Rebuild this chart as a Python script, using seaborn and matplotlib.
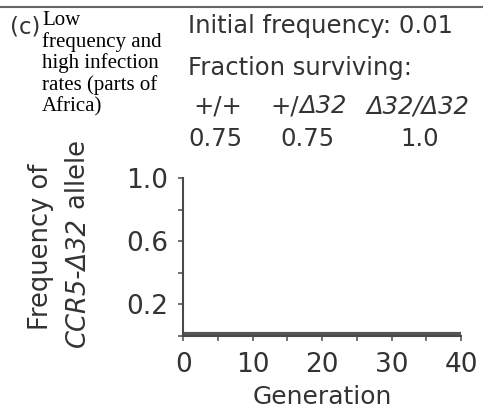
import numpy as np
import seaborn as sns
import matplotlib.pyplot as plt
from matplotlib.lines import Line2D
from matplotlib.transforms import IdentityTransform

# Data
generations = [0, 5, 10, 15, 20, 25, 30, 35, 40]
freq = [0.010, 0.010, 0.010, 0.010, 0.010, 0.010, 0.010, 0.010, 0.010]
genotypes = [[('+/+', 'normal')],
             [('+/', 'normal'), ('Δ32', 'italic')],
             [('Δ32/Δ32', 'italic')]]
surviving = ['0.75', '0.75', '1.0']
x_labels = ['0', '', '10', '', '20', '', '30', '', '40']
y_labels = ['', '0.2', '', '0.6', '', '1.0']
note_lines = ['Low', 'frequency and', 'high infection', 'rates (parts of', 'Africa)']

sns.set_theme(style='ticks')
plt.rcParams['font.family'] = ['DejaVu Sans']

W, H = 483, 412
grey = '#4a4a4a'
txt = '#333333'

fig = plt.figure(figsize=(W / 100, H / 100), dpi=100)
ax = fig.add_axes([183.3 / W, 1 - 336 / H, 277.7 / W, 157.7 / H])

sns.lineplot(x=generations, y=freq, ax=ax, color='#555555', linewidth=3)

ax.set_xlim(0, 40)
ax.set_ylim(0, 1.0)
ax.set_xticks(np.linspace(0, 40, len(x_labels)))
ax.set_xticklabels(x_labels)
ax.set_yticks(np.linspace(0, 1.0, len(y_labels)))
ax.set_yticklabels(y_labels)
ax.tick_params(axis='both', labelsize=19, colors=grey, labelcolor=txt,
               length=3.6, width=1.1, direction='out')
ax.tick_params(axis='y', pad=7)
ax.tick_params(axis='x', pad=8)
sns.despine(ax=ax)
for s in ['left', 'bottom']:
    ax.spines[s].set_color(grey)
    ax.spines[s].set_linewidth(1.5)

ax.set_xlabel('Generation', fontsize=18, color=txt, labelpad=5)

ident = IdentityTransform()
renderer = fig.canvas.get_renderer()


def put(x, y, s, **kw):
    # x, y in pixels measured from the top-left corner
    return fig.text(x, H - y, s, transform=ident, **kw)


def put_runs(x, y, runs, size, vertical=False):
    for s, style in runs:
        if vertical:
            t = put(x, y, s, fontsize=size, color=txt, style=style, rotation=90,
                    rotation_mode='anchor', ha='left', va='baseline')
            y -= t.get_window_extent(renderer).height
        else:
            t = put(x, y, s, fontsize=size, color=txt, style=style,
                    ha='left', va='baseline')
            x += t.get_window_extent(renderer).width + 1


# y axis label, two lines with the gene name in italics
put(48, 246.5, 'Frequency of', fontsize=18.5, color=txt, rotation=90,
    rotation_mode='anchor', ha='center', va='baseline')
put_runs(85, 347, [('CCR5-Δ32', 'italic'), (' allele', 'normal')], 18.5, vertical=True)

# Header
fig.add_artist(Line2D([0, 1], [1 - 7 / H, 1 - 7 / H], color='#666666', linewidth=1.5))
put(10, 33.5, '(c)', fontsize=16.5, color=txt, va='baseline')
for i, line in enumerate(note_lines):
    put(42, 25 + i * 21.7, line, family='Liberation Serif', fontsize=15,
        color='black', va='baseline')
put(188, 33, 'Initial frequency: 0.01', fontsize=17.5, color=txt, va='baseline')
put(188, 75, 'Fraction surviving:', fontsize=17.5, color=txt, va='baseline')
for xp, runs in zip([193, 270, 367], genotypes):
    put_runs(xp, 113, runs, 17.5)
for xp, v in zip([188.5, 280.5, 400], surviving):
    put(xp, 146, v, fontsize=17.5, color=txt, va='baseline')

plt.savefig('out.png', dpi=100)
